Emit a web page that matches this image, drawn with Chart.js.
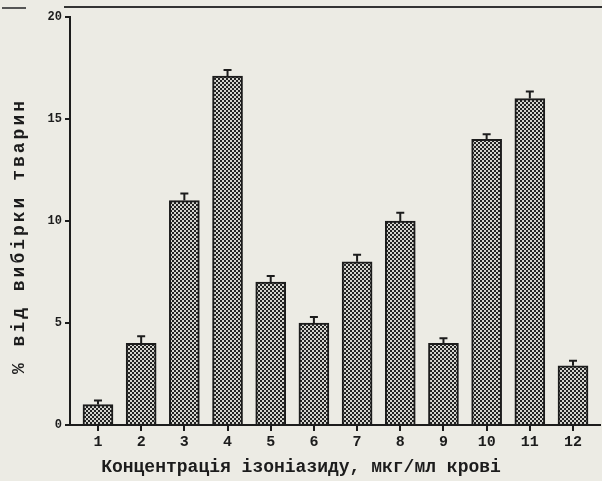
<!DOCTYPE html>
<html><head><meta charset="utf-8">
<script src="https://cdn.jsdelivr.net/npm/chart.js@4/dist/chart.umd.min.js"></script>
<style>
html,body{margin:0;padding:0;background:#ecebe4;}
#wrap{position:relative;width:602px;height:481px;}
#topline{position:absolute;left:64px;right:0;top:6px;height:2px;background:#333;}
#topline2{position:absolute;left:2px;width:24px;top:7px;height:2px;background:#555;}
</style></head>
<body><div id="wrap"><div id="topline"></div><div id="topline2"></div><canvas id="c" width="602" height="481"></canvas></div>
<script>
const categories = ['1','2','3','4','5','6','7','8','9','10','11','12'];
const values = [1, 4, 11, 17.1, 7, 5, 8, 10, 4, 14, 16, 2.9];
const errors = [0.2, 0.35, 0.35, 0.3, 0.3, 0.3, 0.35, 0.4, 0.25, 0.25, 0.35, 0.25];
const yTicks = [0, 5, 10, 15, 20];
const xTitle = 'Концентрація ізоніазиду, мкг/мл крові';
const yTitle = '% від вибірки тварин';

function makePattern(){
  const p = document.createElement('canvas');
  p.width = 4; p.height = 4;
  const g = p.getContext('2d');
  g.fillStyle = '#d4d4ce'; g.fillRect(0,0,4,4);
  g.fillStyle = '#222';
  g.fillRect(0,0,2,2); g.fillRect(2,2,2,2);
  return document.getElementById('c').getContext('2d').createPattern(p,'repeat');
}
const INK = '#1c1c1c';
const FONT = '"Liberation Mono", "DejaVu Sans Mono", monospace';

const extras = {
  id:'extras',
  afterDatasetsDraw(chart){
    const ctx = chart.ctx, xs = chart.scales.x, ys = chart.scales.y;
    ctx.save();
    ctx.strokeStyle = INK; ctx.lineWidth = 2;
    values.forEach((v,i)=>{
      const x = xs.getPixelForValue(i+1);
      const y0 = ys.getPixelForValue(v);
      const y1 = ys.getPixelForValue(v+errors[i]);
      ctx.beginPath(); ctx.moveTo(x,y0); ctx.lineTo(x,y1);
      ctx.moveTo(x-4,y1); ctx.lineTo(x+4,y1); ctx.stroke();
    });
    ctx.restore();
  },
  afterDraw(chart){
    const ctx = chart.ctx;
    ctx.save();
    ctx.fillStyle = INK;
    ctx.font = 'bold 18px ' + FONT;
    ctx.textAlign = 'center'; ctx.textBaseline = 'middle';
    ctx.fillText(xTitle, 301, 467);
    ctx.translate(19, 236);
    ctx.rotate(-Math.PI/2);
    ctx.letterSpacing = '3px';
    ctx.fillText(yTitle, 0, 0);
    ctx.restore();
  }
};

new Chart(document.getElementById('c'), {
  type:'bar',
  data:{
    datasets:[{
      data: values.map((v,i)=>({x:i+1, y:v})),
      backgroundColor: makePattern(),
      borderColor: INK,
      borderWidth: 2,
      borderSkipped: 'bottom',
      barThickness: 30
    }]
  },
  options:{
    responsive:false,
    animation:false,
    layout:{padding:{top:17, right:2, left:0, bottom:0}},
    plugins:{legend:{display:false}, tooltip:{enabled:false}},
    scales:{
      x:{
        type:'linear', min:0.352, max:12.625, offset:false,
        afterFit(s){ s.height = 56; },
        afterBuildTicks(s){ s.ticks = categories.map((c,i)=>({value:i+1})); },
        ticks:{ callback:(v)=>categories[v-1], color:INK, font:{family:FONT, size:15, weight:'bold'}, padding:2, maxRotation:0, autoSkip:false },
        grid:{ offset:false, drawOnChartArea:false, drawTicks:true, tickLength:6, color:INK, lineWidth:2 },
        border:{ display:true, color:INK, width:2 }
      },
      y:{
        min:0, max:20,
        afterFit(s){ s.width = 70; },
        afterBuildTicks(s){ s.ticks = yTicks.map(v=>({value:v})); },
        ticks:{ color:INK, font:{family:FONT, size:12, weight:'bold'}, padding:3 },
        grid:{ drawOnChartArea:false, drawTicks:true, tickLength:5, color:INK, lineWidth:2 },
        border:{ display:true, color:INK, width:2 }
      }
    }
  },
  plugins:[extras]
});
</script></body></html>
